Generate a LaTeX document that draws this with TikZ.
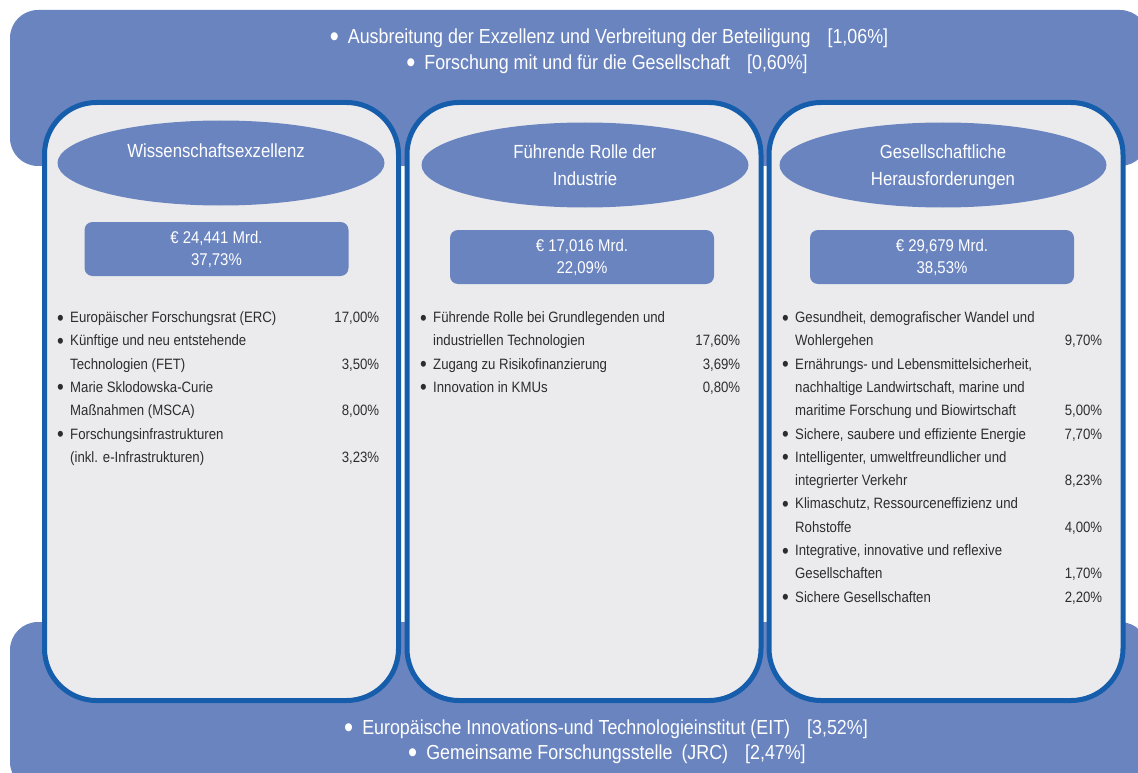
\documentclass[tikz,border=0pt]{standalone}
\usepackage{fontspec}
\setmainfont[FakeStretch=0.88]{Liberation Sans}
\usetikzlibrary{shapes.geometric}

\definecolor{bandblue}{RGB}{106,132,192}
\definecolor{rimblue}{RGB}{22,94,172}
\definecolor{panelgrey}{RGB}{235,235,238}
\definecolor{listgrey}{RGB}{45,45,45}

\newcommand{\bigdot}{\raisebox{-0.32ex}{\scalebox{1.45}{\textbullet}}}
\newcommand{\bul}{\makebox[13pt][l]{\bigdot}}
\newcommand{\cont}{\hspace{13pt}}

\begin{document}
\begin{tikzpicture}[x=1pt,y=-1pt,
    band/.style={fill=bandblue,rounded corners=28pt},
    bandtext/.style={text=white,font=\fontsize{20.3}{26}\selectfont,inner sep=0pt},
    panel/.style={rectangle,draw=rimblue,fill=panelgrey,line width=5pt,rounded corners=52pt,minimum width=354pt,minimum height=598pt},
    topic/.style={ellipse,fill=bandblue,minimum width=327pt,minimum height=85pt},
    topictext/.style={text=white,align=center,anchor=north,inner sep=0pt,font=\fontsize{19}{27}\selectfont},
    budget/.style={rectangle,fill=bandblue,rounded corners=8pt,minimum width=264pt,minimum height=54pt,text=white,align=center,inner sep=0pt,font=\fontsize{17}{22}\selectfont},
    items/.style={anchor=north west,inner sep=0pt,text=listgrey,font=\fontsize{15}{23.3}\selectfont}]
    \clip (0,0) rectangle (1138,773);
    \fill[white] (0,0) rectangle (1138,773);

    \fill[band] (10,10) rectangle (1148,166);
    \fill[band] (10,622) rectangle (1148,790);

    \node[bandtext] (top1) at (609,38) {\bigdot\hspace{9pt}Ausbreitung der Exzellenz und Verbreitung der Beteiligung\hspace{17pt}[1,06\%]};
    \node[bandtext] (top2) at (607,64) {\bigdot\hspace{9pt}Forschung mit und für die Gesellschaft\hspace{17pt}[0,60\%]};
    \node[bandtext] (bot1) at (606,729) {\bigdot\hspace{9pt}Europäische Innovations-und Technologieinstitut (EIT)\hspace{17pt}[3,52\%]};
    \node[bandtext] (bot2) at (607,754) {\bigdot\hspace{9pt}Gemeinsame Forschungsstelle\hspace{9pt}(JRC)\hspace{17pt}[2,47\%]};

    \node[panel] at (221.5,401.5) (p1) {};
    \node[panel] at (584,401.5) (p2) {};
    \node[panel] at (946,401.5) (p3) {};

    \node[topic] at (221,163) (e1) {};
    \node[topic] at (585,165) (e2) {};
    \node[topic] at (943,165) (e3) {};
    \node[topictext] at (216,144) (t1) {Wissenschaftsexzellenz};
    \node[topictext] at (585,145) (t2) {Führende Rolle der\\Industrie};
    \node[topictext] at (943,145) (t3) {Gesellschaftliche\\Herausforderungen};

    \node[budget] at (216.5,249) (b1) {€ 24,441 Mrd.\\37,73\%};
    \node[budget] at (582,257) (b2) {€ 17,016 Mrd.\\22,09\%};
    \node[budget] at (942,257) (b3) {€ 29,679 Mrd.\\38,53\%};

    \node[items] at (57,306) (l1) {\begin{tabular*}{322pt}{@{}l@{\extracolsep{\fill}}r@{}}
        \bul Europäischer Forschungsrat (ERC) & 17,00\%\\
        \bul Künftige und neu entstehende & \\
        \cont Technologien (FET) & 3,50\%\\
        \bul Marie Sklodowska-Curie & \\
        \cont Maßnahmen (MSCA) & 8,00\%\\
        \bul Forschungsinfrastrukturen & \\
        \cont (inkl. e-Infrastrukturen) & 3,23\%
    \end{tabular*}};
    \node[items] at (420,306) (l2) {\begin{tabular*}{320pt}{@{}l@{\extracolsep{\fill}}r@{}}
        \bul Führende Rolle bei Grundlegenden und & \\
        \cont industriellen Technologien & 17,60\%\\
        \bul Zugang zu Risikofinanzierung & 3,69\%\\
        \bul Innovation in KMUs & 0,80\%
    \end{tabular*}};
    \node[items] at (782,306) (l3) {\begin{tabular*}{320pt}{@{}l@{\extracolsep{\fill}}r@{}}
        \bul Gesundheit, demografischer Wandel und & \\
        \cont Wohlergehen & 9,70\%\\
        \bul Ernährungs- und Lebensmittelsicherheit, & \\
        \cont nachhaltige Landwirtschaft, marine und & \\
        \cont maritime Forschung und Biowirtschaft & 5,00\%\\
        \bul Sichere, saubere und effiziente Energie & 7,70\%\\
        \bul Intelligenter, umweltfreundlicher und & \\
        \cont integrierter Verkehr & 8,23\%\\
        \bul Klimaschutz, Ressourceneffizienz und & \\
        \cont Rohstoffe & 4,00\%\\
        \bul Integrative, innovative und reflexive & \\
        \cont Gesellschaften & 1,70\%\\
        \bul Sichere Gesellschaften & 2,20\%
    \end{tabular*}};
\end{tikzpicture}
\end{document}
